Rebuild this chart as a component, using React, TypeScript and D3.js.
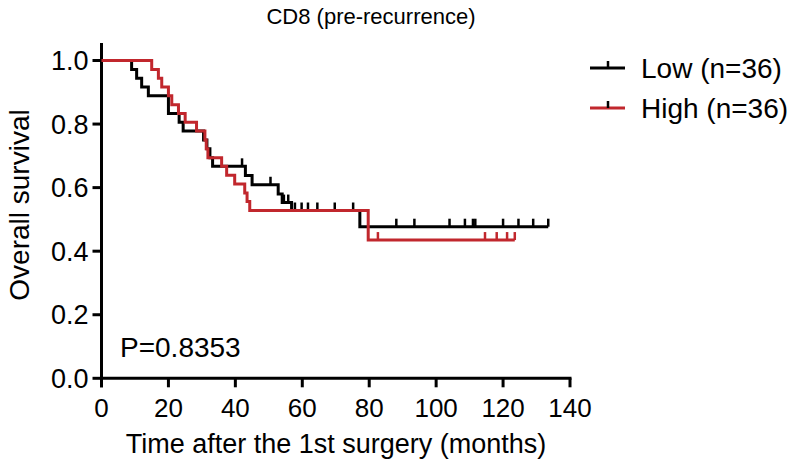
import React from "react";
import * as d3 from "d3";

const lowTimes = [0, 9, 10.5, 12, 14, 20, 23.2, 24.4, 30.5, 31.5, 32.4, 33.2, 43, 45, 52.8, 54, 56.8, 77.2];
const lowSurv = [1, 0.972, 0.944, 0.917, 0.889, 0.833, 0.806, 0.778, 0.75, 0.722, 0.694, 0.667, 0.638, 0.609, 0.58, 0.553, 0.528, 0.477];
const lowEnd = 133.5;
const lowCensor = [42, 50.5, 54.5, 55.8, 57.8, 59.8, 61.7, 64.5, 69.7, 75.2, 88.1, 93.5, 104, 108.6, 111, 111.7, 120, 124.6, 129, 133.5];

const highTimes = [0, 15, 17, 18, 20, 21, 23, 25, 28.4, 30.9, 31.3, 31.8, 35.9, 37.4, 39.8, 42.8, 43.5, 44.3, 79.7];
const highSurv = [1, 0.972, 0.944, 0.917, 0.889, 0.861, 0.833, 0.806, 0.778, 0.75, 0.722, 0.694, 0.667, 0.639, 0.611, 0.583, 0.556, 0.528, 0.435];
const highEnd = 123.5;
const highCensor = [82.6, 114.6, 118.1, 121.2, 123.5];

const xTicks = [0, 20, 40, 60, 80, 100, 120, 140];
const yTicks = [0, 0.2, 0.4, 0.6, 0.8, 1.0];
const seriesNames = ["Low (n=36)", "High (n=36)"];
const colors = ["#000000", "#c1272d"];

const W = 791, H = 464;
const FONT = "'Liberation Sans', Arial, Helvetica, sans-serif";

export default function App() {
  const x = d3.scaleLinear().domain([0, 140]).range([101.5, 570]);
  const y = d3.scaleLinear().domain([0, 1]).range([378.3, 60.5]);

  const series = [
    { times: lowTimes, surv: lowSurv, end: lowEnd, censor: lowCensor },
    { times: highTimes, surv: highSurv, end: highEnd, censor: highCensor },
  ];

  const line = d3.line<[number, number]>()
    .x((d) => x(d[0]))
    .y((d) => y(d[1]))
    .curve(d3.curveStepAfter);

  const valueAt = (times: number[], surv: number[], t: number) => {
    const i = d3.bisectRight(times, t) - 1;
    return surv[Math.max(0, i)];
  };

  const tickH = 8;
  const sw = 3;

  return (
    <svg width={W} height={H} style={{ position: "absolute", left: 0, top: 0, background: "#fff" }}>
      <rect x={0} y={0} width={W} height={H} fill="#fff" />
      <text x={371} y={24} fontFamily={FONT} fontSize={22} textAnchor="middle" fill="#000">CD8 (pre-recurrence)</text>

      {/* axes */}
      <line x1={x(0)} x2={x(0)} y1={y(1.055)} y2={y(0) + 9} stroke="#000" strokeWidth={sw} />
      <line x1={x(0) - 1.5} x2={x(140) + 1.5} y1={y(0)} y2={y(0)} stroke="#000" strokeWidth={sw} />
      {yTicks.map((t) => (
        <g key={"y" + t}>
          <line x1={x(0) - 9} x2={x(0)} y1={y(t)} y2={y(t)} stroke="#000" strokeWidth={sw} />
          <text x={x(0) - 13} y={y(t)} dy="0.36em" textAnchor="end" fontFamily={FONT} fontSize={27} fill="#000">{t.toFixed(1)}</text>
        </g>
      ))}
      {xTicks.map((t) => (
        <g key={"x" + t}>
          <line x1={x(t)} x2={x(t)} y1={y(0)} y2={y(0) + 9} stroke="#000" strokeWidth={sw} />
          <text x={x(t)} y={417} textAnchor="middle" fontFamily={FONT} fontSize={26} fill="#000">{t}</text>
        </g>
      ))}
      <text x={336} y={453} textAnchor="middle" fontFamily={FONT} fontSize={27} fill="#000">Time after the 1st surgery (months)</text>
      <text transform={`translate(29,${205}) rotate(-90)`} textAnchor="middle" fontFamily={FONT} fontSize={28} fill="#000">Overall survival</text>

      {/* curves */}
      {series.map((s, si) => {
        const pts: [number, number][] = s.times.map((t, i) => [t, s.surv[i]] as [number, number]);
        pts.push([s.end, s.surv[s.surv.length - 1]]);
        return (
          <g key={"s" + si}>
            <path d={line(pts) || ""} fill="none" stroke={colors[si]} strokeWidth={sw} />
            {s.censor.map((c, ci) => {
              const v = valueAt(s.times, s.surv, c);
              return (
                <line key={ci} x1={x(c)} x2={x(c)} y1={y(v)} y2={y(v) - tickH} stroke={colors[si]} strokeWidth={2.5} />
              );
            })}
          </g>
        );
      })}

      <text x={120} y={357} fontFamily={FONT} fontSize={28} fill="#000">P=0.8353</text>

      {/* legend */}
      {seriesNames.map((name, i) => {
        const ly = 68 + i * 40;
        return (
          <g key={"l" + i}>
            <line x1={590} x2={625} y1={ly} y2={ly} stroke={colors[i]} strokeWidth={sw} />
            <line x1={608} x2={608} y1={ly} y2={ly - 7} stroke="#000" strokeWidth={2.5} />
            <text x={641} y={ly} dy="0.36em" fontFamily={FONT} fontSize={28} fill="#000">{name}</text>
          </g>
        );
      })}
    </svg>
  );
}
